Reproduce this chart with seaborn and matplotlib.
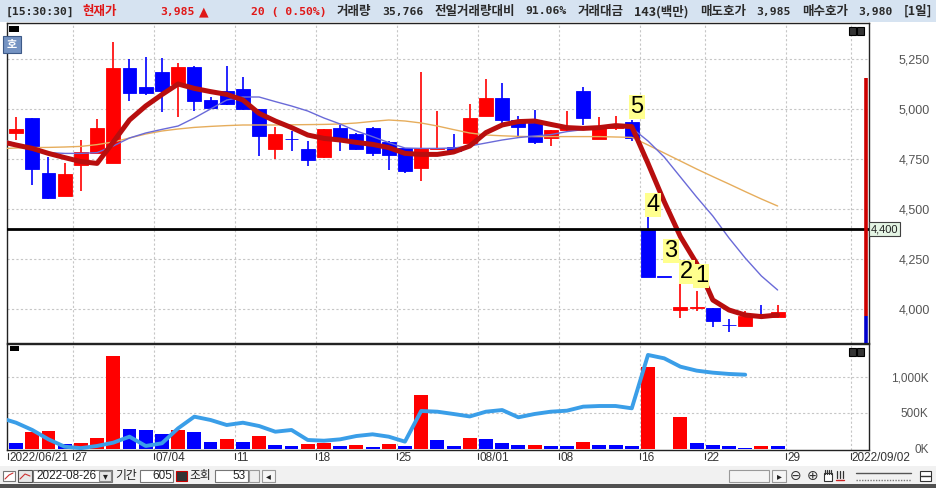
import matplotlib
matplotlib.use("Agg")
import matplotlib.pyplot as plt
from matplotlib.patches import Rectangle
import numpy as np
import pandas as pd
import seaborn as sns

# ---------------- data ----------------
dates = ["06/21", "06/22", "06/23", "06/24", "06/27", "06/28", "06/29", "06/30",
         "07/01", "07/04", "07/05", "07/06", "07/07", "07/08", "07/11", "07/12",
         "07/13", "07/14", "07/15", "07/18", "07/19", "07/20", "07/21", "07/22",
         "07/25", "07/26", "07/27", "07/28", "07/29", "08/01", "08/02", "08/03",
         "08/04", "08/05", "08/08", "08/09", "08/10", "08/11", "08/12", "08/16",
         "08/17", "08/18", "08/19", "08/22", "08/23", "08/24", "08/25", "08/26"]
opens = [4880, 4955, 4680, 4565, 4720, 4780, 4730, 5205, 5110, 5185, 5125, 5210,
         5045, 5090, 5100, 5000, 4800, 4852, 4800, 4760, 4905, 4875, 4905, 4835,
         4805, 4707, 4800, 4812, 4830, 4965, 5053, 4945, 4928, 4857, 4895, 5088,
         4850, 4905, 4933, 4400, 4162, 3995, 4005, 4003, 3922, 3917, 3975, 3960]
highs = [4960, 4955, 4760, 4730, 4845, 4950, 5335, 5250, 5260, 5255, 5230, 5215,
         5060, 5215, 5160, 5000, 4910, 4888, 4840, 4900, 4920, 4880, 4912, 4840,
         4805, 5185, 4990, 4873, 5025, 5150, 5128, 4967, 4995, 4897, 4990, 5112,
         4962, 4967, 4945, 4485, 4162, 4133, 4092, 4005, 3948, 3990, 4020, 4022]
lows = [4845, 4620, 4550, 4565, 4590, 4780, 4730, 5040, 5070, 4985, 4960, 4990,
        5000, 5020, 4995, 4765, 4750, 4790, 4715, 4755, 4790, 4795, 4765, 4695,
        4678, 4640, 4800, 4790, 4830, 4965, 4930, 4853, 4823, 4817, 4890, 4920,
        4850, 4895, 4840, 4160, 4160, 3957, 3990, 3912, 3885, 3917, 3960, 3957]
closes = [4900, 4700, 4555, 4675, 4785, 4905, 5205, 5080, 5080, 5090, 5210, 5040,
          5005, 5025, 5000, 4865, 4875, 4848, 4745, 4900, 4850, 4800, 4780, 4770,
          4692, 4805, 4805, 4792, 4957, 5053, 4945, 4912, 4833, 4895, 4910, 4955,
          4903, 4918, 4857, 4162, 4160, 4012, 4010, 3940, 3918, 3965, 3965, 3985]
volumes = [88, 240, 254, 69, 88, 157, 1296, 273, 264, 204, 264, 236,
           102, 139, 102, 180, 56, 42, 69, 79, 42, 56, 32, 74,
           42, 750, 125, 42, 157, 134, 88, 56, 56, 42, 42, 102,
           56, 56, 42, 1134, 0, 449, 88, 56, 42, 18, 39.3, 35.8]  # thousands
volume_up = [0, 1, 1, 0, 1, 1, 1, 0, 0, 0, 1, 0,
             0, 1, 0, 1, 0, 0, 1, 1, 0, 1, 0, 1,
             0, 1, 0, 0, 1, 0, 0, 0, 1, 0, 0, 1,
             0, 0, 0, 1, 0, 1, 0, 0, 0, 0, 1, 0]
# moving-average style lines; first value is where each line meets the left frame
line_slots = [-0.55] + list(range(48))
ma_thick = [4830, 4820, 4803, 4778, 4757, 4737, 4728, 4835, 4945, 5015, 5072, 5125,
            5103, 5087, 5073, 5045, 4978, 4940, 4907, 4870, 4853, 4845, 4833, 4823,
            4807, 4778, 4773, 4773, 4785, 4815, 4882, 4920, 4937, 4940, 4923, 4907,
            4903, 4907, 4917, 4912, 4728, 4537, 4362, 4228, 4045, 3995, 3970, 3962, 3970]
ma_blue = [4840, 4825, 4800, 4782, 4778, 4778, 4782, 4815, 4855, 4880, 4898, 4915,
           4955, 5000, 5045, 5060, 5060, 5037, 5015, 4990, 4955, 4925, 4890, 4862,
           4832, 4805, 4803, 4803, 4805, 4815, 4830, 4845, 4857, 4865, 4872, 4887,
           4897, 4905, 4912, 4905, 4840, 4760, 4660, 4560, 4465, 4355, 4255, 4165, 4095]
ma_orange = [4803, 4805, 4807, 4808, 4810, 4813, 4822, 4835, 4855, 4875, 4890, 4900,
             4908, 4913, 4917, 4920, 4920, 4920, 4921, 4922, 4923, 4925, 4930, 4938,
             4945, 4940, 4930, 4915, 4897, 4880, 4870, 4866, 4863, 4862, 4862, 4862,
             4862, 4862, 4860, 4858, 4820, 4780, 4740, 4700, 4662, 4625, 4587, 4550, 4515]
vol_line_slots = [-0.55] + list(range(46))
vol_line = [403, 365, 264, 134, 32, 12, 42, 88, 171, 42, 79, 287, 449,
            403, 333, 365, 319, 240, 264, 125, 115, 134, 180, 204, 171,
            102, 528, 518, 486, 452, 518, 541, 440, 486, 518, 532, 588,
            597, 597, 565, 1306, 1259, 1143, 1088, 1060, 1042, 1032]  # thousands
n_slots = 53
date_tick_slots = [0, 4, 9, 14, 19, 24, 29, 34, 39, 43, 48, 52]
date_tick_labels = ["2022/06/21", "27", "07/04", "11", "18", "25", "08/01",
                    "08", "16", "22", "29", "2022/09/02"]
price_ticks = [4000, 4250, 4500, 4750, 5000, 5250]
price_tick_labels = ["4,000", "4,250", "4,500", "4,750", "5,000", "5,250"]
vol_ticks = [0, 500, 1000]
vol_tick_labels = ["0K", "500K", "1,000K"]
hline_price = 4400
hline_label = "4,400"
wave_labels = ["5", "4", "3", "2", "1"]
wave_slots = [38.3, 39.3, 40.4, 41.4, 42.3]
wave_prices = [5010, 4520, 4290, 4185, 4165]
side_bar_top = 5155
side_bar_split = 3965

# ---------------- figure ----------------
sns.set_style("white")
plt.rcParams["font.family"] = ["DejaVu Sans", "Noto Sans CJK KR"]

W, H = 936, 488
fig = plt.figure(figsize=(W / 100, H / 100), dpi=100)
fig.patch.set_facecolor("white")


def fbox(x0, y0, x1, y1):
    return [x0 / W, 1 - y1 / H, (x1 - x0) / W, (y1 - y0) / H]


RED = "#ff0000"
BLUE = "#0000ff"
GRID = "#c6c6c6"
SANS = ["Liberation Sans", "DejaVu Sans"]
xlim = (-0.56, 52.64)

ax = fig.add_axes(fbox(7, 23, 869, 343))
axv = fig.add_axes(fbox(7, 344, 869, 450))

df = pd.DataFrame({"slot": np.arange(len(dates)), "open": opens, "high": highs,
                   "low": lows, "close": closes, "volume": volumes,
                   "vup": volume_up})
df["color"] = np.where(df["close"] >= df["open"], RED, BLUE)
mdf = pd.DataFrame({"slot": line_slots, "ma_thick": ma_thick,
                    "ma_blue": ma_blue, "ma_orange": ma_orange})

# ---- price panel ----
ax.set_xlim(*xlim)
ax.set_ylim(3830, 5430)
for p in price_ticks:
    ax.axhline(p, color=GRID, lw=0.8, ls=(0, (2, 2)), zorder=0)
for s in date_tick_slots[1:]:
    ax.axvline(s - 0.5, color=GRID, lw=0.8, ls=(0, (2, 2)), zorder=0)

ax.vlines(df["slot"], df["low"], df["high"], colors=df["color"], lw=1.2, zorder=2)
body_bottom = np.minimum(df["open"], df["close"])
body_h = np.maximum(np.abs(df["close"] - df["open"]), 3)
ax.bar(df["slot"], body_h, bottom=body_bottom, width=0.86, color=df["color"],
       edgecolor=df["color"], lw=0.6, zorder=2)

sns.lineplot(data=mdf, x="slot", y="ma_orange", ax=ax, color="#e6ad5c", lw=1.0, zorder=3)
sns.lineplot(data=mdf, x="slot", y="ma_blue", ax=ax, color="#6a6ad8", lw=1.0, zorder=3)
sns.lineplot(data=mdf, x="slot", y="ma_thick", ax=ax, color="#b80e0e", lw=3.6, zorder=4)

ax.axhline(hline_price, color="black", lw=2.0, zorder=5)
ax.vlines([52.45], side_bar_split, side_bar_top, colors="#cc0000", lw=2.6, zorder=5)
ax.vlines([52.45], 3830, side_bar_split, colors="#0000cc", lw=2.6, zorder=5)

for lab, sx, py in zip(wave_labels, wave_slots, wave_prices):
    ax.text(sx, py, lab, ha="center", va="center", fontsize=17,
            family=SANS, color="black", zorder=7,
            bbox=dict(boxstyle="square,pad=0.06", fc="#ffff8e", ec="none"))

ax.text(1.002, hline_price, hline_label, transform=ax.get_yaxis_transform(),
        ha="left", va="center", fontsize=8, color="#202020",
        family=SANS, zorder=8, clip_on=False,
        bbox=dict(boxstyle="square,pad=0.18", fc="#e4f4e4", ec="#404040", lw=0.8))

ax.yaxis.tick_right()
ax.set_yticks(price_ticks)
ax.set_yticklabels(price_tick_labels)
ax.tick_params(axis="y", length=0, pad=44, labelsize=9, labelcolor="#555555")
for t in ax.get_yticklabels():
    t.set_ha("right")
    t.set_family(SANS)
ax.set_xticks([])
ax.set_xlabel("")
ax.set_ylabel("")
for sp in ax.spines.values():
    sp.set_color("#222222")
    sp.set_linewidth(1.0)

# ---- volume panel ----
axv.set_xlim(*xlim)
axv.set_ylim(-14, 1458)
for v in vol_ticks[1:]:
    axv.axhline(v, color=GRID, lw=0.8, ls=(0, (2, 2)), zorder=0)
for s in date_tick_slots[1:]:
    axv.axvline(s - 0.5, color=GRID, lw=0.8, ls=(0, (2, 2)), zorder=0)
vcol = np.where(df["vup"] == 1, RED, BLUE)
axv.bar(df["slot"], df["volume"], width=0.86, color=vcol, lw=0, zorder=2)
vdf = pd.DataFrame({"slot": vol_line_slots, "v": vol_line})
sns.lineplot(data=vdf, x="slot", y="v", ax=axv, color="#3a9ee8", lw=2.8, zorder=3)
axv.yaxis.tick_right()
axv.set_yticks(vol_ticks)
axv.set_yticklabels(vol_tick_labels)
axv.tick_params(axis="y", length=0, pad=43, labelsize=8.5, labelcolor="#555555")
for t in axv.get_yticklabels():
    t.set_ha("right")
    t.set_family(SANS)
axv.set_xticks([])
axv.set_xlabel("")
axv.set_ylabel("")
for sp in axv.spines.values():
    sp.set_color("#222222")
    sp.set_linewidth(1.0)

xt = axv.get_xaxis_transform()
for s, lab in zip(date_tick_slots, date_tick_labels):
    axv.plot([s - 0.5, s - 0.5], [-0.03, -0.085], transform=xt, color="#333333",
             lw=0.8, clip_on=False)
    axv.text(s - 0.5 + 0.08, -0.075, lab, transform=xt, ha="left", va="center",
             fontsize=8.5, color="#333333", family=SANS, clip_on=False)

# ---------------- overlay: header, toolbar, icons ----------------
ov = fig.add_axes([0, 0, 1, 1], zorder=10)
ov.set_xlim(0, W)
ov.set_ylim(H, 0)
ov.axis("off")
ov.patch.set_alpha(0)


def rect(x0, y0, x1, y1, fc, ec="none", lw=0.8):
    ov.add_patch(Rectangle((x0, y0), x1 - x0, y1 - y0, fc=fc, ec=ec, lw=lw))


renderer = fig.canvas.get_renderer()
HRED = "#e01818"
HDARK = "#2a2a2a"
MONO = ["DejaVu Sans Mono", "Noto Sans CJK KR"]
KO = ["Noto Sans CJK KR", "DejaVu Sans"]


def htext(s, color, fam):
    fs = 8.2 if fam is MONO else 9
    return ov.text(0, 11.5, s, ha="left", va="center", color=color, fontsize=fs,
                   family=fam, fontweight="bold")


def flow(tokens, x_start, x_end=None, gap=5.0):
    texts = [htext(s, c, f) for s, c, f in tokens]
    widths = [t.get_window_extent(renderer).width for t in texts]
    if x_end is not None and len(texts) > 1:
        gap = (x_end - x_start - sum(widths)) / (len(texts) - 1)
    x = x_start
    for t, w in zip(texts, widths):
        t.set_x(x)
        x += w + gap


# header
rect(0, 0, W, 22, "#d6e3f1")
flow([("[15:30:30]", HDARK, MONO)], 6)
flow([("현재가", HRED, KO)], 82)
flow([("3,985", HRED, MONO)], 160)
ov.text(199, 11.5, "▲", ha="left", va="center", color=HRED, fontsize=9,
        family=["DejaVu Sans"])
flow([("20 ( 0.50%)", HRED, MONO)], 251)
flow([("거래량", HDARK, KO), ("35,766", HDARK, MONO),
      ("전일거래량대비", HDARK, KO), ("91.06%", HDARK, MONO),
      ("거래대금", HDARK, KO), ("143(백만)", HDARK, KO),
      ("매도호가", HDARK, KO), ("3,985", HDARK, MONO),
      ("매수호가", HDARK, KO), ("3,980", HDARK, MONO),
      ("[1일]", HDARK, KO)], 337, 932)

# panel icons
rect(9, 26, 19, 32, "black")
rect(3, 36, 21, 53, "#7593c2", "#3d5a88")
ov.text(12, 44.5, "호", ha="center", va="center", fontsize=8, color="white",
        family=KO, fontweight="bold")
rect(849, 27, 856, 35, "#333333", "black")
rect(857, 27, 864, 35, "#333333", "black")
rect(10, 346, 19, 351, "black")
rect(849, 348, 856, 356, "#333333", "black")
rect(857, 348, 864, 356, "#333333", "black")

# bottom toolbar
rect(0, 466, W, 484, "#f1f1f1")
rect(0, 484, W, H, "#505050")
rect(3, 471, 15, 481, "white", "#777777")
ov.plot([5, 9, 13], [479, 475, 473], color="#cc3333", lw=0.8)
rect(18, 470, 32, 482, "#e8e8e8", "#555555")
ov.plot([20, 25, 30], [479, 474, 476], color="#cc3333", lw=0.8)
rect(33, 470, 112, 482, "white", "#777777")
ov.text(36, 476, "2022-08-26", ha="left", va="center", fontsize=8.5,
        color="#222222", family=SANS)
rect(99, 471, 111, 481, "#e6e6e6", "#888888")
ov.text(105, 476, "▾", ha="center", va="center", fontsize=7, color="#222222")
ov.text(115, 476, "기간", ha="left", va="center", fontsize=8.5, color="#222222", family=KO)
rect(140, 470, 173, 482, "white", "#777777")
ov.text(172, 476, "605", ha="right", va="center", fontsize=8.5, color="#222222",
        family=SANS)
rect(176, 471, 187, 481, "#333333", "#cc0000")
ov.text(189, 476, "조회", ha="left", va="center", fontsize=8.5, color="#222222", family=KO)
rect(215, 470, 248, 482, "white", "#777777")
ov.text(246, 476, "53", ha="right", va="center", fontsize=8.5, color="#222222",
        family=SANS)
rect(249, 470, 259, 482, "#eeeeee", "#999999")
rect(262, 470, 275, 482, "#f6f6f6", "#999999")
ov.text(268.5, 476, "◂", ha="center", va="center", fontsize=7, color="#222222")
rect(729, 470, 769, 482, "#f4f4f4", "#999999")
rect(772, 470, 786, 482, "#f6f6f6", "#999999")
ov.text(779, 476, "▸", ha="center", va="center", fontsize=7, color="#222222")
ov.text(796, 476, "⊖", ha="center", va="center", fontsize=10, color="#333333")
ov.text(813, 476, "⊕", ha="center", va="center", fontsize=10, color="#333333")
# hand icon (no installed font has the glyph): simple shape
rect(824, 473, 832, 481, "white", "#333333")
for hx in (825, 827, 829, 831):
    ov.plot([hx, hx], [470, 474], color="#333333", lw=0.9)
# column icon
for cx in (837, 840, 843):
    ov.plot([cx, cx], [471, 478], color="#333333", lw=0.9)
ov.plot([836, 844], [480, 480], color="#cc2222", lw=1.0)
ov.plot([856, 911], [473, 473], color="#555555", lw=1)
ov.plot([856, 911], [480, 480], color="#777777", lw=1, ls=(0, (1, 1)))
rect(920, 471, 931, 481, "white", "#333333")
ov.plot([921, 930], [476, 476], color="#333333", lw=1)

fig.savefig("out.png", dpi=100)
